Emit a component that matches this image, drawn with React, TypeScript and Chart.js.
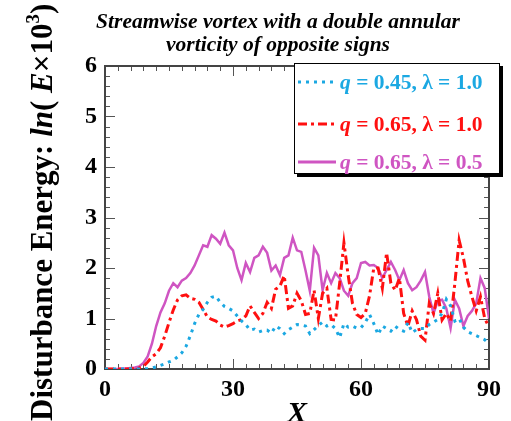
import React, { useEffect, useRef } from 'react';
import { Chart, registerables } from 'chart.js';

Chart.register(...registerables);

// ---- data ----
const xValues = [
  0, 1, 2, 3, 4, 5, 6, 7, 8, 9, 10, 11, 12, 13, 14, 15, 16, 17, 18, 19,
  20, 21, 22, 23, 24, 25, 26, 27, 28, 29, 30, 31, 32, 33, 34, 35, 36, 37, 38, 39,
  40, 41, 42, 43, 44, 45, 46, 47, 48, 49, 50, 51, 52, 53, 54, 55, 56, 57, 58, 59,
  60, 61, 62, 63, 64, 65, 66, 67, 68, 69, 70, 71, 72, 73, 74, 75, 76, 77, 78, 79,
  80, 81, 82, 83, 84, 85, 86, 87, 88, 89, 90,
];

const energyQ045L10 = [
  0, 0, 0, 0, 0, 0, 0, 0, 0, 0.005,
  0.01, 0.02, 0.04, 0.07, 0.1, 0.14, 0.17, 0.24, 0.32, 0.45,
  0.66, 0.9, 1.08, 1.18, 1.32, 1.42, 1.44, 1.32, 1.24, 1.2,
  1.15, 1.05, 0.95, 0.88, 0.77, 0.79, 0.73, 0.76, 0.77, 0.71,
  0.85, 0.8, 0.7, 0.78, 0.83, 0.88, 0.87, 0.85, 0.7, 0.78,
  0.86, 0.93, 0.85, 0.88, 0.8, 0.62, 0.9, 0.83, 0.85, 0.81,
  0.82, 0.92, 1.08, 0.9, 0.68, 0.85, 0.8, 0.75, 0.85, 0.78,
  0.75, 0.92, 0.72, 0.78, 0.8, 0.8, 0.88, 0.93, 0.98, 1.1,
  1.38, 1.25, 0.95, 1.0, 0.83, 0.74, 0.7, 0.66, 0.62, 0.58,
  0.5,
];

const energyQ065L10 = [
  0, 0, 0, 0, 0, 0, 0, 0.01, 0.02, 0.05,
  0.14, 0.24, 0.3, 0.42, 0.65, 0.92, 1.17, 1.37, 1.45, 1.47,
  1.4, 1.38, 1.32, 1.18, 1.03, 0.98, 0.95, 0.87, 0.83, 0.86,
  0.9, 0.95, 0.98, 1.05, 1.25, 1.12, 1.0, 1.1, 1.32, 1.2,
  1.58, 1.64, 1.85, 1.2, 1.25, 1.5, 1.35, 1.08, 1.1, 1.56,
  1.0, 1.5, 1.6, 0.98, 0.97, 1.7, 2.5, 1.85, 1.3, 1.08,
  1.02, 1.1, 1.45, 2.0, 2.0, 1.6, 2.3, 1.7, 1.56, 1.8,
  1.1, 0.85, 1.15, 0.98, 0.65, 0.57, 1.3, 1.1, 1.5, 0.97,
  1.1, 0.95, 1.7, 2.55, 2.2, 1.75, 1.43, 1.15, 1.43, 1.0,
  0.83,
];

const energyQ065L05 = [
  0, 0, 0, 0, 0.01, 0.01, 0.02, 0.03, 0.05, 0.12,
  0.25, 0.5, 0.85, 1.12, 1.3, 1.55, 1.7, 1.62, 1.75, 1.8,
  1.9, 2.05, 2.25, 2.45, 2.42, 2.65, 2.58, 2.48, 2.7, 2.45,
  2.35, 2.0, 1.76, 2.1, 1.92, 2.2, 2.25, 2.42, 2.3, 1.95,
  2.05, 1.86, 2.2, 2.25, 2.6, 2.35, 2.32, 1.95, 1.55, 2.4,
  2.25, 1.56, 1.9, 1.7, 1.9, 1.8, 1.55, 1.45, 1.7, 1.8,
  2.1, 2.12, 2.05, 2.06, 2.0, 1.8, 1.96, 2.12, 1.96, 1.76,
  1.96, 1.7, 1.56, 1.62, 1.75, 1.92, 1.43, 1.1, 1.35, 1.37,
  1.2, 0.81, 1.37, 1.2, 0.85, 1.05, 1.15, 1.3, 1.8, 1.6,
  1.0,
];

const titleLines = ['Streamwise vortex with a double annular', 'vorticity of opposite signs'];
const xAxisTitle = 'X';

type Seg = { t: string; italic?: boolean; sup?: boolean };
const yAxisTitle: Seg[] = [
  { t: 'Disturbance Energy: ' },
  { t: 'ln', italic: true },
  { t: '( ' },
  { t: 'E', italic: true },
  { t: '\u00d710' },
  { t: '3', sup: true },
  { t: ')' },
];

const legendRows: { color: string; dash: number[]; segs: Seg[] }[] = [
  { color: '#1ba8e2', dash: [3, 5], segs: [{ t: 'q', italic: true }, { t: ' = 0.45, ' }, { t: '\u03bb' }, { t: ' = 1.0' }] },
  { color: '#ff1010', dash: [9, 4, 3, 4], segs: [{ t: 'q', italic: true }, { t: ' = 0.65, ' }, { t: '\u03bb' }, { t: ' = 1.0' }] },
  { color: '#cf55c2', dash: [], segs: [{ t: 'q', italic: true }, { t: ' = 0.65, ' }, { t: '\u03bb' }, { t: ' = 0.5' }] },
];

const SERIF = '"Liberation Serif", "Times New Roman", serif';

const decorPlugin = {
  id: 'decor',
  beforeDatasetsDraw(chart: any) {
    const { ctx, chartArea: a, scales } = chart;
    const x = scales.x;
    const y = scales.y;
    ctx.save();
    ctx.strokeStyle = '#555';
    ctx.lineWidth = 1;
    ctx.beginPath();
    for (let i = 0; i <= 30; i++) {
      const v = i * 0.2;
      const py = Math.round(y.getPixelForValue(v)) + 0.5;
      const len = i % 5 === 0 ? 10 : 5;
      ctx.moveTo(a.left, py);
      ctx.lineTo(a.left + len, py);
      ctx.moveTo(a.right, py);
      ctx.lineTo(a.right - len, py);
    }
    for (let i = 0; i <= 30; i++) {
      const v = i * 3;
      const px = Math.round(x.getPixelForValue(v)) + 0.5;
      const len = i % 10 === 0 ? 10 : 5;
      ctx.moveTo(px, a.bottom);
      ctx.lineTo(px, a.bottom - len);
      ctx.moveTo(px, a.top);
      ctx.lineTo(px, a.top + len);
    }
    ctx.stroke();
    ctx.lineWidth = 2;
    ctx.strokeStyle = '#444';
    ctx.strokeRect(a.left, a.top, a.right - a.left, a.bottom - a.top);
    ctx.restore();
  },
  afterDraw(chart: any) {
    const { ctx } = chart;
    ctx.save();
    // title
    ctx.fillStyle = '#000';
    ctx.font = `bold italic 21.5px ${SERIF}`;
    ctx.textAlign = 'center';
    ctx.textBaseline = 'alphabetic';
    ctx.fillText(titleLines[0], 278, 28);
    ctx.fillText(titleLines[1], 278, 51);

    // x axis title
    ctx.font = `bold italic 30px ${SERIF}`;
    ctx.fillText(xAxisTitle, 297, 422);

    // y axis title (rotated)
    ctx.save();
    ctx.translate(52, 421);
    ctx.rotate(-Math.PI / 2);
    ctx.textAlign = 'left';
    let cx = 0;
    for (const s of yAxisTitle) {
      if (s.sup) {
        ctx.font = `bold 19px ${SERIF}`;
        ctx.fillText(s.t, cx, -13);
      } else {
        ctx.font = `bold ${s.italic ? 'italic ' : ''}31px ${SERIF}`;
        ctx.fillText(s.t, cx, 0);
      }
      cx += ctx.measureText(s.t).width;
    }
    ctx.restore();

    // legend box
    const L = 294, T = 63, R = 500, B = 174;
    ctx.fillStyle = '#000';
    ctx.fillRect(L + 3, T + 3, R - L, B - T);
    ctx.fillStyle = '#fff';
    ctx.fillRect(L, T, R - L, B - T);
    ctx.strokeStyle = '#000';
    ctx.lineWidth = 1;
    ctx.strokeRect(L + 0.5, T + 0.5, R - L - 1, B - T - 1);

    const baselines = [89, 131, 169];
    legendRows.forEach((row, i) => {
      const by = baselines[i];
      ctx.save();
      ctx.strokeStyle = row.color;
      ctx.lineWidth = 3;
      ctx.setLineDash(row.dash);
      ctx.beginPath();
      ctx.moveTo(298, by - 7);
      ctx.lineTo(336, by - 7);
      ctx.stroke();
      ctx.restore();
      ctx.fillStyle = row.color;
      ctx.textAlign = 'left';
      let tx = 340;
      for (const s of row.segs) {
        ctx.font = `bold ${s.italic ? 'italic ' : ''}21.5px ${SERIF}`;
        ctx.fillText(s.t, tx, by);
        tx += ctx.measureText(s.t).width;
      }
    });
    ctx.restore();
  },
};

function toPoints(values: number[]) {
  return xValues.map((x, i) => ({ x, y: values[i] }));
}

export default function App() {
  const canvasRef = useRef<HTMLCanvasElement>(null);

  useEffect(() => {
    document.body.style.margin = '0';
    const canvas = canvasRef.current;
    if (!canvas) return;
    const chart = new Chart(canvas, {
      type: 'line',
      data: {
        datasets: [
          {
            label: 'q = 0.45, λ = 1.0',
            data: toPoints(energyQ045L10),
            borderColor: legendRows[0].color,
            borderWidth: 3,
            borderDash: [3, 5],
            pointRadius: 0,
            tension: 0,
          },
          {
            label: 'q = 0.65, λ = 1.0',
            data: toPoints(energyQ065L10),
            borderColor: legendRows[1].color,
            borderWidth: 3,
            borderDash: [9, 4, 3, 4],
            pointRadius: 0,
            tension: 0,
          },
          {
            label: 'q = 0.65, λ = 0.5',
            data: toPoints(energyQ065L05),
            borderColor: legendRows[2].color,
            borderWidth: 2.5,
            pointRadius: 0,
            tension: 0,
          },
        ],
      },
      options: {
        animation: false,
        responsive: true,
        maintainAspectRatio: false,
        layout: { padding: { left: 0, top: 66, right: 22, bottom: 0 } },
        plugins: {
          legend: { display: false },
          title: { display: false },
          tooltip: { enabled: false },
        },
        scales: {
          x: {
            type: 'linear',
            min: 0,
            max: 90,
            grid: { display: false, drawTicks: false },
            border: { display: false },
            ticks: {
              stepSize: 30,
              color: '#000',
              padding: 6,
              maxRotation: 0,
              font: { family: SERIF, size: 24, weight: 'bold' },
            },
            afterFit(scale: any) {
              scale.height = 52;
            },
          },
          y: {
            min: 0,
            max: 6,
            grid: { display: false, drawTicks: false },
            border: { display: false },
            ticks: {
              stepSize: 1,
              color: '#000',
              padding: 8,
              font: { family: SERIF, size: 24, weight: 'bold' },
            },
            afterFit(scale: any) {
              scale.width = 105;
            },
          },
        },
      },
      plugins: [decorPlugin],
    });
    return () => chart.destroy();
  }, []);

  return (
    <div style={{ position: 'relative', width: 511, height: 421 }}>
      <canvas ref={canvasRef} />
    </div>
  );
}
